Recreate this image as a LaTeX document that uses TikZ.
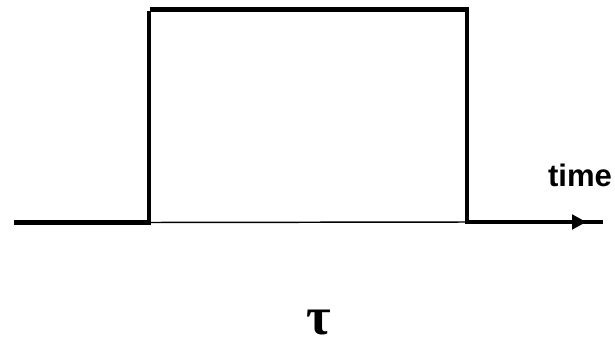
\documentclass[tikz,border=0pt]{standalone}
\usepackage{fontspec}
\usetikzlibrary{calc}
\setmainfont{Liberation Sans}
\newfontfamily\greekfont{Liberation Serif}
\tikzset{
  thick line/.style={line width=3.5pt, line cap=butt, line join=miter},
  thin line/.style={line width=1.1pt},
  label text/.style={inner sep=0pt, anchor=base},
}
\begin{document}
\begin{tikzpicture}[x=0.75pt, y=-0.75pt]
\useasboundingbox (0,0) rectangle (615,343);
% baseline and pulse
\coordinate (start) at (14,222.5);
\coordinate (rise) at (149,222.5);
\coordinate (risetop) at (149,10.8);
\coordinate (topleft) at (150,9.8);
\coordinate (topright) at (469.3,9.8);
\coordinate (falltop) at (467,10.8);
\coordinate (fall) at (467,222);
\coordinate (end) at (603,222);
\coordinate (tip) at (586,222);
\draw[thick line] (start) -- (rise) -- (risetop);
\draw[thick line] (topleft) -- (topright);
\draw[thick line] (falltop) -- (fall) -- (end);
\draw[thin line] (rise) -- (fall);
\fill ($(tip)+(-14,-7.8)$) -- (tip) -- ($(tip)+(-14,7.8)$) -- cycle;
\node[label text, font=\bfseries\fontsize{23.3}{26}\selectfont] (time) at (580,186.7) {time};
\node[label text, font=\greekfont\bfseries\fontsize{40}{44}\selectfont] (tau) at (319,334) {τ};
\end{tikzpicture}
\end{document}
